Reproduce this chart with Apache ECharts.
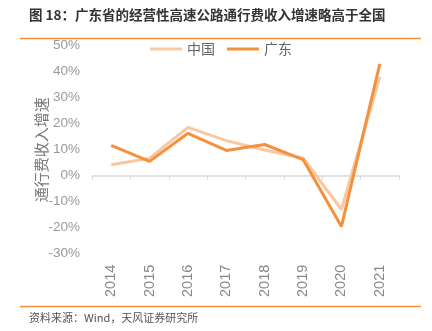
<!DOCTYPE html>
<html><head><meta charset="utf-8">
<script src="https://cdn.jsdelivr.net/npm/echarts@6/dist/echarts.min.js"></script>
<style>html,body{margin:0;padding:0;background:#fff}#c{width:432px;height:331px}</style>
</head><body><div id="c"></div>
<script>
const categories = ['2014','2015','2016','2017','2018','2019','2020','2021'];
const chinaValues = [4.2, 6.7, 18.6, 13.5, 9.9, 6.8, -13.0, 38.0];
const guangdongValues = [11.7, 5.5, 16.3, 9.7, 12.0, 6.2, -19.5, 43.0];
const seriesNames = ['中国', '广东'];
const titleText = '图 18：广东省的经营性高速公路通行费收入增速略高于全国';
const sourceText = '资料来源：Wind，天风证券研究所';
const yAxisName = '通行费收入增速';

const chart = echarts.init(document.getElementById('c'), null, {renderer: 'canvas'});
const labelFont = "'Liberation Sans', Arial, sans-serif";
const cjk = "'Noto Sans CJK SC', sans-serif";
chart.setOption({
  animation: false,
  backgroundColor: '#fff',
  grid: {left: 92, right: 33, top: 45.7, bottom: 77.3, containLabel: false, outerBoundsMode: 'none'},
  legend: {
    top: 37, left: 145, itemWidth: 32, itemHeight: 3, itemGap: 12,
    icon: 'rect',
    textStyle: {fontFamily: cjk, fontSize: 14, color: '#666'},
    data: seriesNames
  },
  xAxis: [{
    type: 'category', data: categories, boundaryGap: true,
    axisLine: {onZero: true, lineStyle: {color: '#d9d9d9', width: 1.5}},
    axisTick: {show: true, length: 4, lineStyle: {color: '#d9d9d9'}},
    axisLabel: {show: false}
  }, {
    type: 'category', data: categories, boundaryGap: true, position: 'bottom',
    axisLine: {show: false, onZero: false}, axisTick: {show: false},
    axisLabel: {rotate: 90, margin: 11, color: '#888', fontFamily: labelFont, fontSize: 14.5}
  }],
  yAxis: {
    type: 'value', min: -30, max: 50, interval: 10,
    name: yAxisName, nameLocation: 'middle', nameGap: 43, nameRotate: 90, nameMoveOverlap: false,
    nameTextStyle: {fontFamily: cjk, fontSize: 15, color: '#777'},
    axisLine: {show: false}, axisTick: {show: false}, splitLine: {show: false},
    axisLabel: {formatter: v => v + '%', color: '#999', fontFamily: labelFont, fontSize: 13.5, margin: 12}
  },
  series: [
    {name: seriesNames[0], type: 'line', data: chinaValues, symbol: 'none', xAxisIndex: 0,
     lineStyle: {color: '#f9c8a2', width: 3}, itemStyle: {color: '#f9c8a2'}},
    {name: seriesNames[1], type: 'line', data: guangdongValues, symbol: 'none', xAxisIndex: 0,
     lineStyle: {color: '#f5913d', width: 3}, itemStyle: {color: '#f5913d'}}
  ],
  graphic: [
    {type: 'text', left: 29, top: 8, style: {text: titleText, font: "bold 13.5px 'Noto Sans CJK SC', sans-serif", fill: '#333'}},
    {type: 'line', shape: {x1: 20, y1: 38.5, x2: 421, y2: 38.5}, style: {stroke: '#f5913d', lineWidth: 1.5}},
    {type: 'line', shape: {x1: 20, y1: 306.5, x2: 421, y2: 306.5}, style: {stroke: '#f5913d', lineWidth: 1.5}},
    {type: 'text', left: 29, top: 312, style: {text: sourceText, font: "11px 'Noto Sans CJK SC', sans-serif", fill: '#555'}}
  ]
});
</script></body></html>
